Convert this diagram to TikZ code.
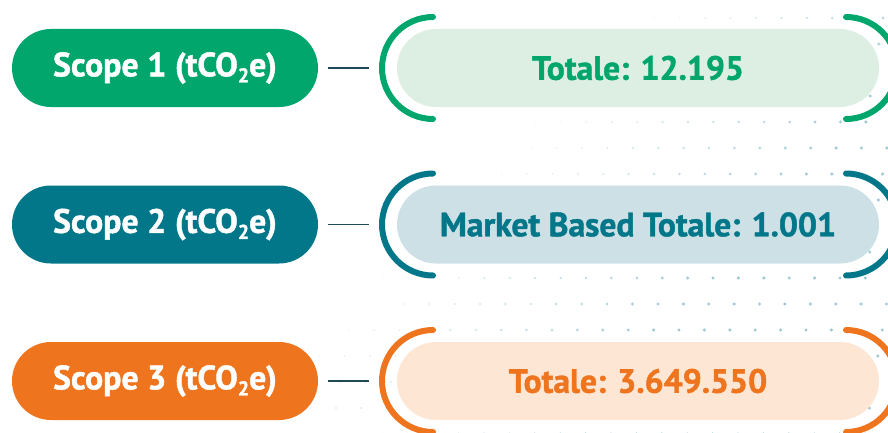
\documentclass[tikz,border=0pt]{standalone}
\usepackage{fontspec}
\setmainfont{PT Sans}[BoldFeatures={FakeBold=1.3}]
\definecolor{sgreen}{HTML}{00A66C}
\definecolor{lgreen}{HTML}{DDEEE3}
\definecolor{steal}{HTML}{017789}
\definecolor{lteal}{HTML}{CDE0E6}
\definecolor{sorange}{HTML}{EE741E}
\definecolor{lorange}{HTML}{FDE6D4}
\definecolor{connc}{HTML}{1E4A58}
\definecolor{dotc}{HTML}{9FCAD5}
\newcommand{\cotwo}{CO\raisebox{-0.18em}{\fontsize{20}{20}\selectfont 2}}
\begin{document}
\begin{tikzpicture}[x=1pt,y=1pt,
  lpill/.style={rounded corners=39pt, minimum width=306pt, minimum height=78pt, inner sep=0pt, text=white, font=\fontsize{33.8}{36}\selectfont\bfseries},
  rpill/.style={rounded corners=39pt, minimum width=482pt, minimum height=78pt, inner sep=0pt, font=\fontsize{33.6}{36}\selectfont\bfseries},
  brk/.style={line width=6pt, line cap=round},
  conn/.style={line width=1.4pt, draw=connc}]
\useasboundingbox (0,0) rectangle (888,432);
\clip (0,0) rectangle (888,432);
% background dot grid
\foreach \r in {0,...,16}{
  \foreach \c in {0,...,36}{
    \pgfmathsetmacro{\yi}{18+26*\r}
    \pgfmathsetmacro{\xi}{586-4.3*(\yi-278)/26+25.4*(\c-22)}
    \pgfmathsetmacro{\al}{min(1,max(0,(\xi+\yi-610)/380))}
    \ifdim\al pt>0.02pt
      \fill[dotc, opacity=\al] (\xi,432-\yi) circle (0.8+0.9*\al);
    \fi
  }
}
\foreach \n/\y/\col/\lt/\txt in {1/364/sgreen/lgreen/{Totale: 12.195},
                                  2/207.5/steal/lteal/{Market Based Totale: 1.001},
                                  3/51/sorange/lorange/{Totale: 3.649.550}}{
  \node[lpill, fill=\col] (l\n) at (165,\y) {Scope \n\ (t\cotwo e)};
  \node[rpill, fill=\lt, text=\col] (r\n) at (638,\y) {\txt};
  \draw[brk, draw=\col] (433,\y+51) arc[start angle=90, end angle=270, radius=51];
  \draw[brk, draw=\col] (846,\y+51) arc[start angle=90, end angle=-90, radius=51];
  \coordinate (a\n) at (382,\y);
  \draw[conn, shorten <=10pt, shorten >=13pt] (l\n.east) -- (a\n);
}
\end{tikzpicture}
\end{document}
